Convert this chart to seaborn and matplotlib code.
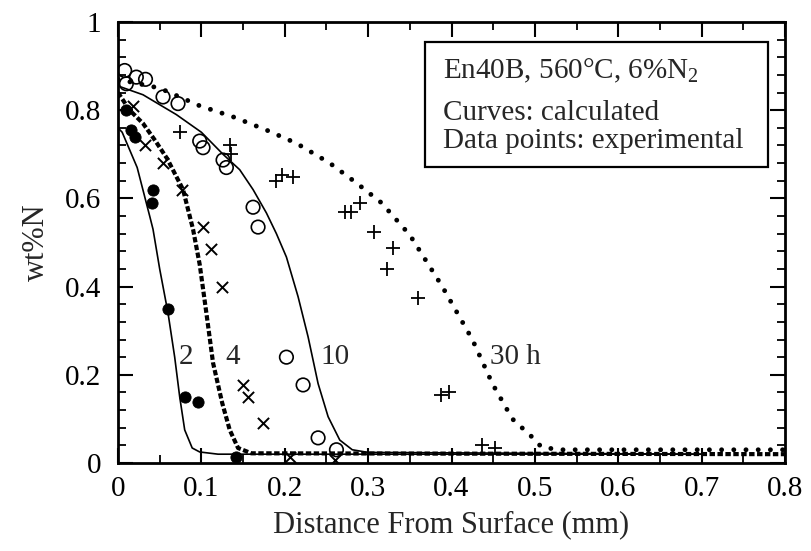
import numpy as np
import pandas as pd
import matplotlib
matplotlib.use("Agg")
import matplotlib.pyplot as plt
from matplotlib.ticker import MultipleLocator, FixedLocator, FixedFormatter
from matplotlib.patches import Rectangle
import seaborn as sns

# ---- calculated nitrogen profiles (wt%N vs distance, mm) ----
curve_2h_x = [0.0, 0.005, 0.023, 0.038, 0.042, 0.05, 0.06, 0.068, 0.074, 0.08, 0.089, 0.098, 0.12, 0.7]
curve_2h_y = [0.76, 0.75, 0.67, 0.56, 0.53, 0.44, 0.34, 0.24, 0.15, 0.075, 0.034, 0.025, 0.02, 0.02]

curve_4h_x = [0.0, 0.014, 0.03, 0.045, 0.059, 0.078, 0.09, 0.098, 0.106, 0.114, 0.125, 0.134, 0.144, 0.16, 0.8]
curve_4h_y = [0.84, 0.80, 0.77, 0.73, 0.69, 0.62, 0.53, 0.45, 0.34, 0.227, 0.136, 0.075, 0.034, 0.022, 0.02]

curve_10h_x = [0.0, 0.03, 0.07, 0.1, 0.126, 0.146, 0.162, 0.178, 0.19, 0.202, 0.216, 0.228, 0.24, 0.252, 0.266, 0.281, 0.3, 0.7]
curve_10h_y = [0.855, 0.835, 0.79, 0.75, 0.70, 0.665, 0.62, 0.567, 0.52, 0.467, 0.377, 0.286, 0.18, 0.105, 0.052, 0.03, 0.024, 0.02]

curve_30h_x = [0.0, 0.05, 0.098, 0.138, 0.178, 0.214, 0.254, 0.286, 0.316, 0.35, 0.389, 0.425, 0.449, 0.473, 0.496, 0.508, 0.53, 0.8]
curve_30h_y = [0.87, 0.85, 0.81, 0.785, 0.755, 0.725, 0.68, 0.635, 0.59, 0.517, 0.40, 0.28, 0.18, 0.10, 0.06, 0.036, 0.03, 0.03]

# ---- experimental points ----
exp_2h_x = [0.01, 0.015, 0.02, 0.042, 0.041, 0.06, 0.08, 0.096, 0.142]
exp_2h_y = [0.80, 0.755, 0.74, 0.62, 0.59, 0.35, 0.15, 0.138, 0.014]

exp_4h_x = [0.018, 0.032, 0.054, 0.077, 0.102, 0.112, 0.125, 0.15, 0.156, 0.174, 0.206, 0.26]
exp_4h_y = [0.81, 0.72, 0.68, 0.62, 0.535, 0.485, 0.40, 0.177, 0.15, 0.09, 0.014, 0.007]

exp_10h_x = [0.008, 0.022, 0.033, 0.01, 0.054, 0.072, 0.098, 0.102, 0.126, 0.13, 0.162, 0.168, 0.202, 0.222, 0.24, 0.262]
exp_10h_y = [0.89, 0.875, 0.87, 0.86, 0.83, 0.815, 0.73, 0.715, 0.687, 0.67, 0.58, 0.535, 0.24, 0.177, 0.057, 0.03]

exp_30h_x = [0.074, 0.134, 0.136, 0.19, 0.197, 0.21, 0.272, 0.28, 0.29, 0.307, 0.33, 0.323, 0.36, 0.388, 0.397, 0.436, 0.452]
exp_30h_y = [0.75, 0.72, 0.70, 0.64, 0.653, 0.648, 0.57, 0.57, 0.59, 0.523, 0.487, 0.44, 0.375, 0.155, 0.16, 0.04, 0.035]

# ---- curve labels ----
label_text = ["2", "4", "10", "30 h"]
label_x = [0.081, 0.138, 0.26, 0.477]
label_y = [0.24, 0.24, 0.24, 0.24]

# ---- axis ticks ----
xtick_vals = [0, 0.1, 0.2, 0.3, 0.4, 0.5, 0.6, 0.7, 0.8]
xtick_text = ["0", "0.1", "0.2", "0.3", "0.4", "0.5", "0.6", "0.7", "0.8"]
ytick_vals = [0, 0.2, 0.4, 0.6, 0.8, 1.0]
ytick_text = ["0", "0.2", "0.4", "0.6", "0.8", "1"]

box_lines = ["En40B, 560\u00b0C, 6%N$_2$", "Curves: calculated", "Data points: experimental"]

sns.set_theme(style="ticks")
plt.rcParams["font.family"] = ["Liberation Serif", "DejaVu Serif"]
plt.rcParams["mathtext.fontset"] = "custom"
plt.rcParams["mathtext.rm"] = "Liberation Serif"
plt.rcParams["mathtext.it"] = "Liberation Serif:italic"

FS = 21
fig = plt.figure(figsize=(8.11, 5.51), dpi=100)
ax = fig.add_axes([118 / 811, 1 - 463 / 551, 667 / 811, 441 / 551])

# calculated curves
sns.lineplot(x=curve_2h_x, y=curve_2h_y, ax=ax, color="black", lw=1.2,
             sort=False, estimator=None)
sns.lineplot(x=curve_4h_x, y=curve_4h_y, ax=ax, color="black", lw=3.0,
             linestyle=(0, (1.3, 0.6)), sort=False, estimator=None)
sns.lineplot(x=curve_10h_x, y=curve_10h_y, ax=ax, color="black", lw=1.2,
             sort=False, estimator=None)
sns.lineplot(x=curve_30h_x, y=curve_30h_y, ax=ax, color="black", lw=3.5,
             linestyle=(0, (0.01, 2.5)), sort=False, estimator=None)
ax.lines[-1].set_dash_capstyle("round")

# experimental points
sns.scatterplot(x=exp_2h_x, y=exp_2h_y, ax=ax, marker="o", color="black",
                edgecolor="black", s=65, zorder=5)
sns.scatterplot(x=exp_4h_x, y=exp_4h_y, ax=ax, marker="x", color="black",
                s=65, linewidth=1.4, zorder=5)
sns.scatterplot(x=exp_10h_x, y=exp_10h_y, ax=ax, marker="o", facecolor="none",
                edgecolor="black", s=95, linewidth=1.2, zorder=5)
sns.scatterplot(x=exp_30h_x, y=exp_30h_y, ax=ax, marker="+", color="black",
                s=110, linewidth=1.3, zorder=5)

for t, x, y in zip(label_text, label_x, label_y):
    ax.text(x, y, t, fontsize=FS, ha="center", va="center",
            bbox=dict(facecolor="white", edgecolor="none", pad=0.5))

# annotation box
ax.add_patch(Rectangle((0.46, 0.671), 0.515, 0.284, transform=ax.transAxes,
                       facecolor="white", edgecolor="black", lw=1.6, zorder=6))
for t, yb in zip(box_lines, [0.873, 0.778, 0.714]):
    ax.text(0.487, yb, t, transform=ax.transAxes, fontsize=FS,
            va="baseline", ha="left", zorder=7)

ax.set_xlim(0, 0.8)
ax.set_ylim(0, 1)
ax.xaxis.set_major_locator(FixedLocator(xtick_vals))
ax.xaxis.set_major_formatter(FixedFormatter(xtick_text))
ax.xaxis.set_minor_locator(MultipleLocator(0.05))
ax.yaxis.set_major_locator(FixedLocator(ytick_vals))
ax.yaxis.set_major_formatter(FixedFormatter(ytick_text))
ax.yaxis.set_minor_locator(MultipleLocator(0.04))

ax.tick_params(which="both", direction="in", top=True, right=True,
               colors="black", labelsize=FS)
ax.tick_params(which="major", length=11, width=1.5)
ax.tick_params(which="minor", length=6, width=1.3)
ax.tick_params(axis="x", which="major", pad=9)
ax.tick_params(axis="y", which="major", pad=12)
for sp in ax.spines.values():
    sp.set_visible(True)
    sp.set_linewidth(2.0)
    sp.set_color("black")

ax.set_xlabel("Distance From Surface (mm)", fontsize=FS + 1, labelpad=6)
ax.set_ylabel("wt%N", fontsize=FS + 1, labelpad=10)

fig.savefig("out.png", dpi=100)
